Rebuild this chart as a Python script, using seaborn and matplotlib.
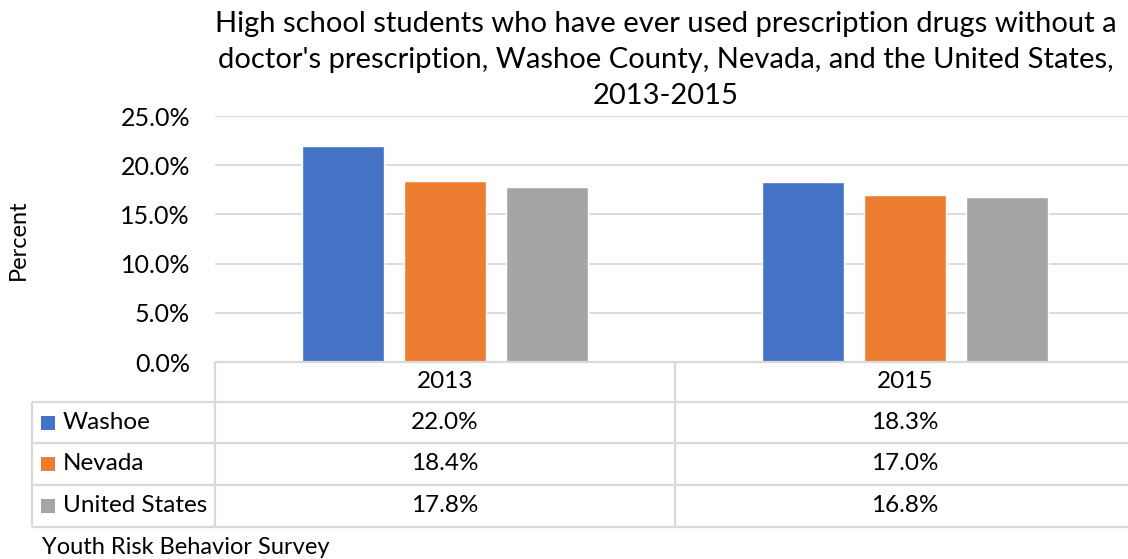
import matplotlib
matplotlib.use("Agg")
import matplotlib.pyplot as plt
import seaborn as sns
import pandas as pd
from matplotlib.lines import Line2D
from matplotlib.patches import Rectangle

# Data
years = ["2013", "2015"]
regions = ["Washoe", "Nevada", "United States"]
washoe = [22.0, 18.3]
nevada = [18.4, 17.0]
united_states = [17.8, 16.8]
colors = ["#4472C4", "#ED7D31", "#A5A5A5"]
yticks = [0, 5, 10, 15, 20, 25]
title = ("High school students who have ever used prescription drugs without a\n"
         "doctor's prescription, Washoe County, Nevada, and the United States,\n"
         "2013-2015")
source = "Youth Risk Behavior Survey"

series = [washoe, nevada, united_states]
df = pd.DataFrame({
    "Year": [y for _ in regions for y in years],
    "Region": [r for r in regions for _ in years],
    "Percent": [v for s in series for v in s],
})

sns.set_theme(style="white")
plt.rcParams["font.family"] = ["Lato", "DejaVu Sans"]

W, H = 1128, 559
fig = plt.figure(figsize=(W / 100, H / 100), dpi=100)


def box(x0, y0, x1, y1):
    return [x0 / W, 1 - y1 / H, (x1 - x0) / W, (y1 - y0) / H]


ax = fig.add_axes(box(215, 116, 1135, 362))
sns.barplot(data=df, x="Year", y="Percent", hue="Region", hue_order=regions,
            palette=colors, saturation=1, width=0.665, gap=0.2,
            legend=False, ax=ax)
ax.set_xlim(-0.5, 1.5)
ax.set_ylim(0, 25)
ax.set_yticks(yticks)
ax.set_yticklabels([f"{t:.1f}%" for t in yticks], fontsize=18, color="#000000")
ax.tick_params(axis="y", length=0, pad=18)
ax.set_xticks([])
ax.set_xlabel("")
ax.set_ylabel("")
ax.yaxis.grid(True, color="#d9d9d9", lw=1.3)
ax.set_axisbelow(True)
for s in ax.spines.values():
    s.set_visible(False)

# Overlay in pixel coordinates for the title, labels and data table
ov = fig.add_axes([0, 0, 1, 1])
ov.set_xlim(0, W)
ov.set_ylim(H, 0)
ov.axis("off")


def to_px(x, y=0):
    dx, dy = ax.transData.transform((x, y))
    return dx, H - dy


ov.text(666, 60, title, ha="center", va="center", fontsize=21,
        linespacing=1.47, color="#000000")
ov.text(18, 240, "Percent", rotation=90, ha="center", va="center",
        fontsize=17, color="#000000")

line_kw = dict(color="#d9d9d9", lw=1.6, solid_capstyle="butt")
x_left = to_px(-0.5)[0]
x_mid = to_px(0.5)[0]
x_right = W
rows = [362, 402, 443, 485, 527]
ov.add_line(Line2D([x_left, x_right], [rows[0], rows[0]], **line_kw))
for r in rows[1:]:
    ov.add_line(Line2D([32, x_right], [r, r], **line_kw))
ov.add_line(Line2D([x_left, x_left], [rows[0], rows[-1]], **line_kw))
ov.add_line(Line2D([x_mid, x_mid], [rows[0], rows[-1]], **line_kw))
ov.add_line(Line2D([32, 32], [rows[1], rows[-1]], **line_kw))

# Header row with the years
for i, yr in enumerate(years):
    cx = to_px(i)[0]
    ov.text(cx, (rows[0] + rows[1]) / 2, yr, ha="center", va="center",
            fontsize=17.5, color="#000000")

# Series rows
for k, (name, vals, col) in enumerate(zip(regions, series, colors)):
    cy = (rows[k + 1] + rows[k + 2]) / 2
    ov.add_patch(Rectangle((41, cy - 7), 14, 14, color=col, lw=0))
    ov.text(63, cy, name, ha="left", va="center", fontsize=17.5, color="#000000")
    for i, v in enumerate(vals):
        cx = to_px(i)[0]
        ov.text(cx, cy, f"{v:.1f}%", ha="center", va="center",
                fontsize=17.5, color="#000000")

ov.text(42, 548, source, ha="left", va="center", fontsize=17, color="#000000")

fig.savefig("out.png", dpi=100)
